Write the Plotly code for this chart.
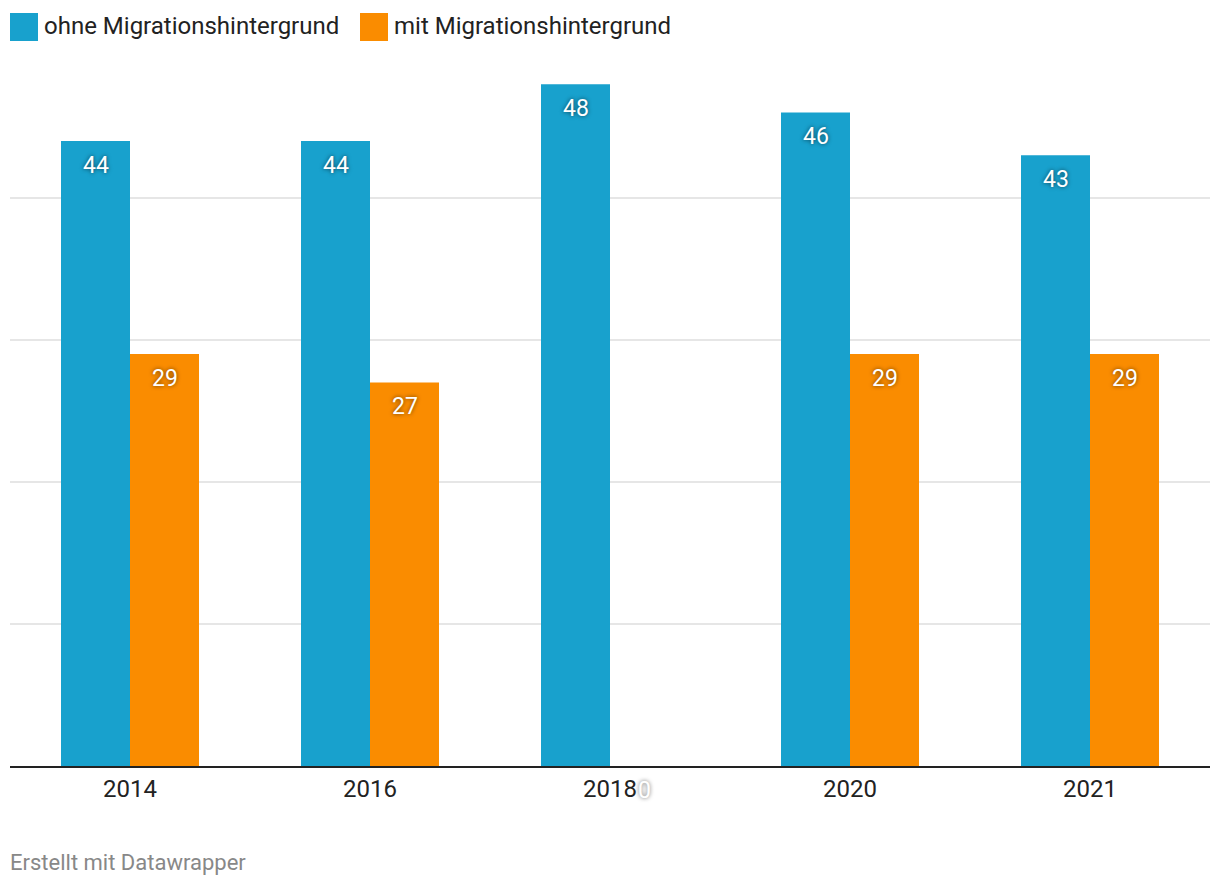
import plotly.graph_objects as go

years = ["2014", "2016", "2018", "2020", "2021"]
ohne = [44, 44, 48, 46, 43]
mit = [29, 27, 0, 29, 29]
series_names = ["ohne Migrationshintergrund", "mit Migrationshintergrund"]
colors = ["#18a1cd", "#fa8c00"]

FONT = "Roboto"
OFF = 8  # page body margin
W, H = 1204, 872
ML, MR, MT, MB = 10 - OFF, 2, 70 - OFF, H - (766 - OFF)
PW, PH = W - ML - MR, H - MT - MB

fig = go.Figure()
for name, vals, col in zip(series_names, [ohne, mit], colors):
    fig.add_trace(go.Bar(x=years, y=vals, name=name, marker=dict(color=col, line=dict(width=0)),
                         showlegend=False, hoverinfo="x+y"))

# value labels (category index positions on the x axis)
for vals, shift in [(ohne, -34.5), (mit, 34.5)]:
    for i, v in enumerate(vals):
        fig.add_annotation(x=i, y=v, xref="x", yref="y", text=str(v), showarrow=False,
                           xshift=shift, yshift=-24,
                           font=dict(family=FONT, size=23, color="white",
                                     shadow="0px 0px 4px rgba(0,0,0,0.6)"))

def px_x(p):
    return (p - OFF - ML) / PW

def px_y(p):
    return 1 - (p - OFF - MT) / PH

# custom legend
lx = [10, 360]
for i, (name, col) in enumerate(zip(series_names, colors)):
    fig.add_shape(type="rect", xref="paper", yref="paper",
                  x0=px_x(lx[i]), x1=px_x(lx[i] + 28),
                  y0=px_y(41), y1=px_y(13),
                  fillcolor=col, line=dict(width=0))
    fig.add_annotation(xref="paper", yref="paper", x=px_x(lx[i] + 32),
                       y=px_y(26), text=name, showarrow=False,
                       xanchor="left", yanchor="middle",
                       font=dict(family=FONT, size=24, color="#222"))

fig.add_annotation(xref="paper", yref="paper", x=px_x(8), y=px_y(862),
                   text="Erstellt mit Datawrapper", showarrow=False,
                   xanchor="left", yanchor="middle",
                   font=dict(family=FONT, size=22, color="#888"))

fig.update_layout(
    width=W, height=H,
    margin=dict(l=ML, r=MR, t=MT, b=MB, autoexpand=False),
    paper_bgcolor="white", plot_bgcolor="white",
    barmode="group", bargap=0.425, bargroupgap=0,
    font=dict(family=FONT),
    xaxis=dict(type="category", range=[-0.5, 4.5], showgrid=False, ticks="", showline=True,
               linecolor="#222", linewidth=2, automargin=False,
               tickfont=dict(family=FONT, size=24, color="#222")),
    yaxis=dict(range=[0, 49], tickvals=[10, 20, 30, 40], showticklabels=False,
               gridcolor="#e6e6e6", gridwidth=2, zeroline=False, automargin=False),
)

fig.write_html("out.html")
